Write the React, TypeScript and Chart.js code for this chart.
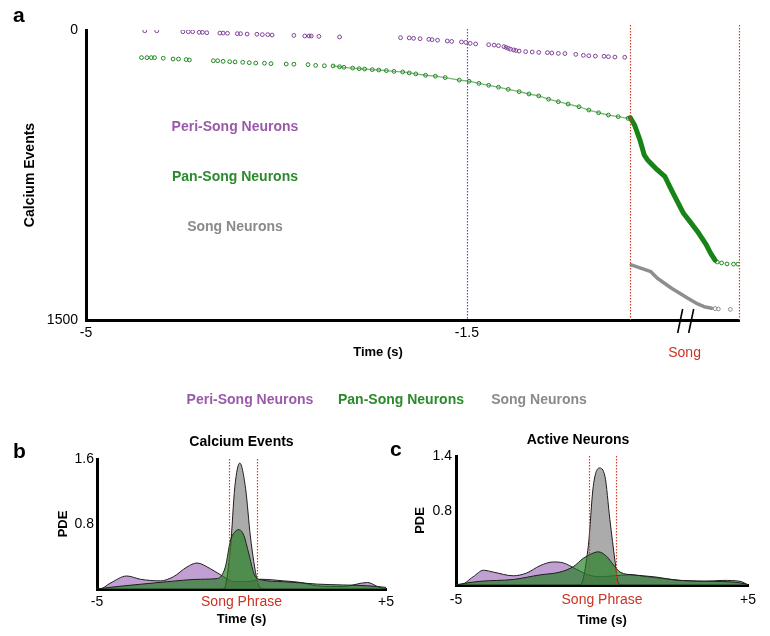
import React, { useEffect, useRef } from "react";
import { Chart, registerables } from "chart.js";

Chart.register(...registerables);

const FONT = "'Liberation Sans', Arial, Helvetica, sans-serif";
Chart.defaults.font.family = FONT;
Chart.defaults.color = "#000";

// ---------- colours ----------
const PURPLE_TEXT = "#9a5aaa";
const PURPLE_PT = "#7f3f97";
const GREEN_TEXT = "#2b8a2b";
const GREEN_PT = "#1f861f";
const GREY_TEXT = "#8a8a8a";
const GREY_PT = "#8c8c8c";
const RED = "#cc3322";
const RED_LINE = "#d2402e";
const BLUE_LINE = "#5a4fc0";
const PURPLE_FILL = "rgba(150, 90, 180, 0.58)";
const GREEN_FILL = "rgba(30, 125, 30, 0.66)";
const GREY_FILL = "rgba(110, 110, 110, 0.58)";

// ---------- panel a : calcium events (time s, cumulative event #) ----------
const periTimes = [
  -4.46, -4.35, -4.11, -4.06, -4.02, -3.96, -3.93, -3.89, -3.77, -3.74, -3.7, -3.61,
  -3.58, -3.52, -3.43, -3.38, -3.33, -3.29, -3.09, -2.99, -2.95, -2.93, -2.86, -2.67,
  -2.11, -2.03, -1.99, -1.93, -1.85, -1.82, -1.77, -1.68, -1.64, -1.55, -1.51, -1.47,
  -1.42, -1.3, -1.25, -1.21, -1.16, -1.14, -1.12, -1.1, -1.07, -1.05, -1.02, -0.96,
  -0.9, -0.84, -0.76, -0.72, -0.66, -0.6, -0.5, -0.43, -0.38, -0.32, -0.24, -0.2,
  -0.14, -0.05,
];
const periEvents = [
  4, 4, 9, 9, 9, 12, 12, 14, 16, 16, 17, 19, 19, 21, 22, 24, 24, 26, 28, 31, 31, 31, 33, 36,
  40, 41, 43, 45, 48, 50, 53, 57, 59, 62, 64, 69, 72, 76, 78, 81, 86, 90, 95, 99, 103, 106,
  109, 112, 114, 116, 117, 119, 121, 122, 126, 131, 133, 135, 136, 138, 140, 141,
];
const panPreTimes = [
  -4.49, -4.44, -4.4, -4.37, -4.29, -4.2, -4.15, -4.08, -4.05, -3.83, -3.79, -3.74, -3.68,
  -3.63, -3.56, -3.5, -3.44, -3.36, -3.3, -3.16, -3.09, -2.96, -2.89, -2.81, -2.73, -2.67,
  -2.63, -2.55, -2.49, -2.44, -2.37, -2.31, -2.24, -2.17, -2.09, -2.03, -1.97, -1.88, -1.79,
  -1.7, -1.57, -1.48, -1.39, -1.3, -1.21, -1.12, -1.02, -0.93, -0.84, -0.75, -0.66, -0.57,
  -0.47, -0.38, -0.29, -0.2, -0.11, -0.02,
];
const panPreEvents = [
  143, 143, 143, 143, 146, 150, 150, 153, 155, 159, 159, 162, 164, 165, 167, 169, 171, 172,
  174, 176, 177, 179, 183, 185, 186, 190, 193, 197, 200, 202, 205, 207, 210, 214, 217, 222,
  227, 234, 239, 246, 259, 265, 276, 286, 296, 307, 319, 331, 341, 358, 371, 383, 397, 414,
  428, 440, 448, 457,
];
const panSongTimes = [0, 0.04, 0.09, 0.13, 0.16, 0.25, 0.32, 0.38, 0.49, 0.55, 0.62, 0.7, 0.74, 0.78];
const panSongEvents = [453, 491, 569, 647, 672, 724, 759, 828, 948, 991, 1043, 1112, 1155, 1190];
const panTailTimes = [0.8, 0.84, 0.89, 0.95, 0.99];
const panTailEvents = [1200, 1205, 1210, 1211, 1211];
const songTimes = [0.01, 0.13, 0.19, 0.25, 0.38, 0.53, 0.62, 0.68, 0.75];
const songEvents = [1215, 1238, 1250, 1284, 1336, 1388, 1417, 1431, 1439];
const songTailTimes = [0.78, 0.81, 0.92];
const songTailEvents = [1441, 1443, 1445];

const aXTickValues = [-5, -1.5, 0.5];
const aXTickLabels: (string | string[])[] = ["-5", "-1.5", ["", "Song"]];
const aYTickValues = [0, 1500];
const aYTickLabels = ["0", "1500"];
const aBaselineTime = -1.5;
const aSongWindow = [0, 1];
const aBreakTime = 0.51;
const groupNames = ["Peri-Song Neurons", "Pan-Song Neurons", "Song Neurons"];

// ---------- panel b : calcium events PDE ----------
const bPeriT = [-5, -4.9, -4.55, -3.97, -3.5, -2.81, -2.36, -1.89, -1.54, -1.08, -0.61, -0.27, 0.2, 0.66, 1.46, 2.05, 2.6, 3.5, 4.36, 4.71, 5];
const bPeriV = [0, 0, 0.07, 0.16, 0.12, 0.1, 0.15, 0.27, 0.32, 0.25, 0.15, 0.09, 0.09, 0.12, 0.1, 0.08, 0.04, 0.03, 0.08, 0.03, 0];
const bPanT = [-5, -4.8, -3.75, -2.57, -1.42, -0.83, -0.56, -0.38, -0.21, -0.09, 0.08, 0.25, 0.43, 0.6, 1.46, 2.63, 3.5, 4.36, 5];
const bPanV = [0, 0.01, 0.05, 0.09, 0.12, 0.13, 0.27, 0.6, 0.71, 0.73, 0.66, 0.44, 0.19, 0.12, 0.09, 0.06, 0.05, 0.04, 0.02];
const bSongT = [-0.75, -0.61, -0.38, -0.23, -0.06, 0.14, 0.31, 0.54, 0.66, 0.8];
const bSongV = [0, 0, 0.52, 1.26, 1.55, 1.24, 0.64, 0.11, 0.01, 0];
const bYMax = 1.6;
const bYTicks = [0.8, 1.6];
const bPhrase = [-0.42, 0.52];

// ---------- panel c : active neurons PDE ----------
const cPeriT = [-5, -4.86, -4.41, -4.06, -3.72, -3.04, -2.58, -2.12, -1.67, -1.33, -0.87, -0.47, -0.07, 0.39, 0.96, 1.53, 2.67, 3.5, 4.15, 4.73, 5];
const cPeriV = [0, 0, 0.09, 0.16, 0.14, 0.1, 0.13, 0.21, 0.25, 0.24, 0.17, 0.11, 0.09, 0.1, 0.11, 0.09, 0.05, 0.04, 0.05, 0.04, 0];
const cPanT = [-5, -4.86, -4.18, -3.04, -2.12, -1.44, -0.98, -0.64, -0.35, -0.13, 0.16, 0.39, 0.62, 1.07, 1.76, 2.67, 3.81, 4.95, 5];
const cPanV = [0, 0.01, 0.04, 0.06, 0.11, 0.14, 0.2, 0.29, 0.34, 0.36, 0.31, 0.22, 0.14, 0.11, 0.09, 0.05, 0.04, 0.01, 0];
const cSongT = [-0.9, -0.75, -0.47, -0.3, -0.09, 0.1, 0.27, 0.45, 0.56, 0.7];
const cSongV = [0, 0, 0.42, 1.07, 1.27, 1.18, 0.71, 0.25, 0.02, 0];
const cYMax = 1.4;
const cYTicks = [0.8, 1.4];
const cPhrase = [-0.45, 0.48];

const pdeXTicks = [-5, 0, 5];
const pdeXLabels = ["-5", "Song Phrase", "+5"];

// ---------- helpers ----------
const zip = (xs: number[], ys: number[]) => xs.map((x, i) => ({ x, y: ys[i] }));
const AXIS_BORDER = { display: true, color: "#000", width: 3 };
const NO_GRID = { display: false, drawTicks: false };

function pointSet(xs: number[], ys: number[], color: string) {
  return {
    data: zip(xs, ys),
    showLine: false,
    pointRadius: 1.9,
    pointBorderWidth: 1,
    pointBorderColor: color,
    pointBackgroundColor: "rgba(255,255,255,0)",
    borderColor: color,
    backgroundColor: "rgba(255,255,255,0)",
  };
}
function lineSet(xs: number[], ys: number[], color: string, width: number) {
  return {
    data: zip(xs, ys),
    showLine: true,
    pointRadius: 0,
    borderColor: color,
    backgroundColor: color,
    borderWidth: width,
    borderCapStyle: "round",
    borderJoinStyle: "round",
    tension: 0,
  };
}

function panelAConfig(): any {
  const denseIdx = panPreTimes.map((_t, i) => i).filter((i) => panPreTimes[i] >= -2.75);
  const plugin = {
    id: "panelA",
    afterDatasetsDraw(chart: any) {
      const { ctx, chartArea: ca, scales } = chart;
      const x = scales.x;
      ctx.save();
      ctx.lineWidth = 1.2;
      ctx.setLineDash([1.5, 1.5]);
      const vline = (v: number, color: string, top: number) => {
        const px = Math.round(x.getPixelForValue(v)) + 0.5;
        ctx.strokeStyle = color;
        ctx.beginPath();
        ctx.moveTo(px, top);
        ctx.lineTo(px, ca.bottom);
        ctx.stroke();
      };
      vline(aBaselineTime, BLUE_LINE, ca.top - 1);
      aSongWindow.forEach((v) => vline(v, RED_LINE, ca.top - 5));
      ctx.restore();
    },
    afterDraw(chart: any) {
      const { ctx, chartArea: ca, scales } = chart;
      const x = scales.x;
      ctx.save();
      // axis break marks
      const bx = x.getPixelForValue(aBreakTime);
      ctx.strokeStyle = "#000";
      ctx.lineWidth = 1.6;
      [-5.5, 5.5].forEach((off) => {
        ctx.beginPath();
        ctx.moveTo(bx + off + 2.5, ca.bottom - 11);
        ctx.lineTo(bx + off - 2.5, ca.bottom + 13);
        ctx.stroke();
      });
      ctx.textAlign = "center";
      ctx.textBaseline = "middle";
      // x axis title
      ctx.fillStyle = "#000";
      ctx.font = `bold 13px ${FONT}`;
      ctx.fillText("Time (s)", ca.left + 292, ca.bottom + 32);
      // in-plot group labels
      ctx.font = `bold 14px ${FONT}`;
      const inCols = [PURPLE_TEXT, GREEN_TEXT, GREY_TEXT];
      groupNames.forEach((n, i) => {
        ctx.fillStyle = inCols[i];
        ctx.fillText(n, ca.left + 149, ca.top + 97 + i * 50);
      });
      // shared legend row for b & c
      const legX = [250, 401, 539];
      groupNames.forEach((n, i) => {
        ctx.fillStyle = inCols[i];
        ctx.fillText(n, legX[i], 400);
      });
      ctx.restore();
    },
  };
  return {
    type: "scatter",
    data: {
      datasets: [
        { label: groupNames[0], ...pointSet(periTimes, periEvents, PURPLE_PT) },
        { label: groupNames[1], ...pointSet(panPreTimes, panPreEvents, GREEN_PT) },
        {
          label: groupNames[1],
          ...lineSet(
            denseIdx.map((i) => panPreTimes[i]),
            denseIdx.map((i) => panPreEvents[i]),
            "rgba(31,134,31,0.6)",
            1.3
          ),
        },
        { label: groupNames[1], ...lineSet(panSongTimes, panSongEvents, "#188418", 5) },
        { label: groupNames[1], ...pointSet(panTailTimes, panTailEvents, GREEN_PT) },
        { label: groupNames[2], ...lineSet(songTimes, songEvents, "#8e8e8e", 3.5) },
        { label: groupNames[2], ...pointSet(songTailTimes, songTailEvents, GREY_PT) },
      ],
    },
    options: {
      responsive: false,
      animation: false,
      layout: { padding: { left: 0, right: 31, top: 30, bottom: 0 } },
      plugins: { legend: { display: false }, tooltip: { enabled: false }, title: { display: false } },
      scales: {
        x: {
          type: "linear",
          min: -5,
          max: 1,
          grid: NO_GRID,
          border: AXIS_BORDER,
          afterBuildTicks: (s: any) => {
            s.ticks = aXTickValues.map((v) => ({ value: v }));
          },
          afterFit: (s: any) => {
            s.height = 100;
          },
          ticks: {
            autoSkip: false,
            maxRotation: 0,
            padding: 5,
            font: (c: any) => ({
              size: 14,
              family: FONT,
              lineHeight: c.tick && c.tick.value === 0.5 ? 1.35 : 1.2,
            }),
            color: (c: any) => (c.tick && c.tick.value === 0.5 ? RED : "#000"),
            callback: (_v: any, i: number) => aXTickLabels[i],
          },
        },
        y: {
          type: "linear",
          min: 0,
          max: 1500,
          reverse: true,
          grid: NO_GRID,
          border: AXIS_BORDER,
          afterBuildTicks: (s: any) => {
            s.ticks = aYTickValues.map((v) => ({ value: v }));
          },
          afterFit: (s: any) => {
            s.width = 86;
          },
          ticks: {
            padding: 8,
            font: { size: 14 },
            color: "#000",
            callback: (_v: any, i: number) => aYTickLabels[i],
          },
          title: {
            display: true,
            text: "Calcium Events",
            color: "#000",
            font: { size: 14, weight: "bold" },
            padding: { top: 21.6, bottom: 0 },
          },
        },
      },
    },
    plugins: [plugin],
  };
}

function pdeConfig(p: any): any {
  const area = (t: number[], v: number[], fillColor: string) => ({
    data: zip(t, v),
    fill: "origin",
    backgroundColor: fillColor,
    borderColor: "#1e1e1e",
    borderWidth: 1,
    pointRadius: 0,
    cubicInterpolationMode: "monotone",
  });
  const plugin = {
    id: "phrase",
    afterDatasetsDraw(chart: any) {
      const { ctx, chartArea: ca, scales } = chart;
      ctx.save();
      ctx.strokeStyle = RED_LINE;
      ctx.lineWidth = 1.2;
      ctx.setLineDash([1.5, 1.5]);
      p.phrase.forEach((v: number) => {
        const px = Math.round(scales.x.getPixelForValue(v)) + 0.5;
        ctx.beginPath();
        ctx.moveTo(px, ca.top);
        ctx.lineTo(px, ca.bottom);
        ctx.stroke();
      });
      ctx.restore();
    },
  };
  return {
    type: "line",
    data: {
      datasets: [
        { label: groupNames[1], ...area(p.pan[0], p.pan[1], GREEN_FILL) },
        { label: groupNames[2], ...area(p.song[0], p.song[1], GREY_FILL) },
        { label: groupNames[0], ...area(p.peri[0], p.peri[1], PURPLE_FILL) },
      ],
    },
    options: {
      responsive: false,
      animation: false,
      layout: { padding: { left: 0, right: p.padRight, top: 0, bottom: 0 } },
      plugins: {
        legend: { display: false },
        tooltip: { enabled: false },
        title: {
          display: true,
          text: p.title,
          color: "#000",
          font: { size: 14, weight: "bold" },
          padding: p.titlePad,
          fullSize: p.titleFull,
        },
      },
      scales: {
        x: {
          type: "linear",
          min: -5,
          max: 5,
          grid: NO_GRID,
          border: AXIS_BORDER,
          afterBuildTicks: (s: any) => {
            s.ticks = pdeXTicks.map((v) => ({ value: v }));
          },
          afterFit: (s: any) => {
            s.height = p.xHeight;
          },
          ticks: {
            autoSkip: false,
            maxRotation: 0,
            padding: p.xTickPad,
            font: { size: 14 },
            color: (c: any) => (c.tick && c.tick.value === 0 ? RED : "#000"),
            callback: (_v: any, i: number) => pdeXLabels[i],
          },
          title: {
            display: true,
            text: "Time (s)",
            color: "#000",
            font: { size: 13, weight: "bold" },
            padding: { top: 0, bottom: p.xTitlePad },
          },
        },
        y: {
          type: "linear",
          min: 0,
          max: p.yMax,
          grid: NO_GRID,
          border: AXIS_BORDER,
          afterBuildTicks: (s: any) => {
            s.ticks = p.yTicks.map((v: number) => ({ value: v }));
          },
          afterFit: (s: any) => {
            s.width = p.yWidth;
          },
          ticks: {
            padding: p.yTickPad,
            font: { size: 14 },
            color: "#000",
            callback: (v: any) => String(v),
          },
          title: {
            display: true,
            text: "PDE",
            color: "#000",
            font: { size: 13, weight: "bold" },
            padding: { top: p.yTitlePad, bottom: 0 },
          },
        },
      },
    },
    plugins: [plugin],
  };
}

const letterStyle = (left: number, top: number): React.CSSProperties => ({
  position: "absolute",
  left,
  top,
  font: `bold 21px ${FONT}`,
  lineHeight: "21px",
  color: "#000",
});

export default function App() {
  const aRef = useRef<HTMLCanvasElement>(null);
  const bRef = useRef<HTMLCanvasElement>(null);
  const cRef = useRef<HTMLCanvasElement>(null);

  useEffect(() => {
    const charts: Chart[] = [];
    charts.push(new Chart(aRef.current as HTMLCanvasElement, panelAConfig()));
    charts.push(
      new Chart(
        bRef.current as HTMLCanvasElement,
        pdeConfig({
          title: "Calcium Events",
          yMax: bYMax,
          yTicks: bYTicks,
          phrase: bPhrase,
          peri: [bPeriT, bPeriV],
          pan: [bPanT, bPanV],
          song: [bSongT, bSongV],
          yWidth: 97,
          xHeight: 47,
          padRight: 14,
          titlePad: { top: 13.6, bottom: 8.6 },
          titleFull: false,
          yTitlePad: 55.2,
          yTickPad: 3,
          xTickPad: 4.6,
          xTitlePad: 9.2,
        })
      )
    );
    charts.push(
      new Chart(
        cRef.current as HTMLCanvasElement,
        pdeConfig({
          title: "Active Neurons",
          yMax: cYMax,
          yTicks: cYTicks,
          phrase: cPhrase,
          peri: [cPeriT, cPeriV],
          pan: [cPanT, cPanV],
          song: [cSongT, cSongV],
          yWidth: 48,
          xHeight: 51,
          padRight: 22,
          titlePad: { top: 11.6, bottom: 7.6 },
          titleFull: true,
          yTitlePad: 4.2,
          yTickPad: 4,
          xTickPad: 7,
          xTitlePad: 8.2,
        })
      )
    );
    return () => charts.forEach((c) => c.destroy());
  }, []);

  return (
    <div
      style={{
        position: "fixed",
        left: 0,
        top: 0,
        width: 770,
        height: 636,
        background: "#fff",
        overflow: "hidden",
      }}
    >
      <canvas ref={aRef} width={770} height={420} style={{ position: "absolute", left: 0, top: 0 }} />
      <canvas ref={bRef} width={400} height={216} style={{ position: "absolute", left: 0, top: 420 }} />
      <canvas ref={cRef} width={362} height={216} style={{ position: "absolute", left: 408, top: 420 }} />
      <div style={letterStyle(13, 4)}>a</div>
      <div style={letterStyle(13, 440)}>b</div>
      <div style={letterStyle(390, 438)}>c</div>
    </div>
  );
}
